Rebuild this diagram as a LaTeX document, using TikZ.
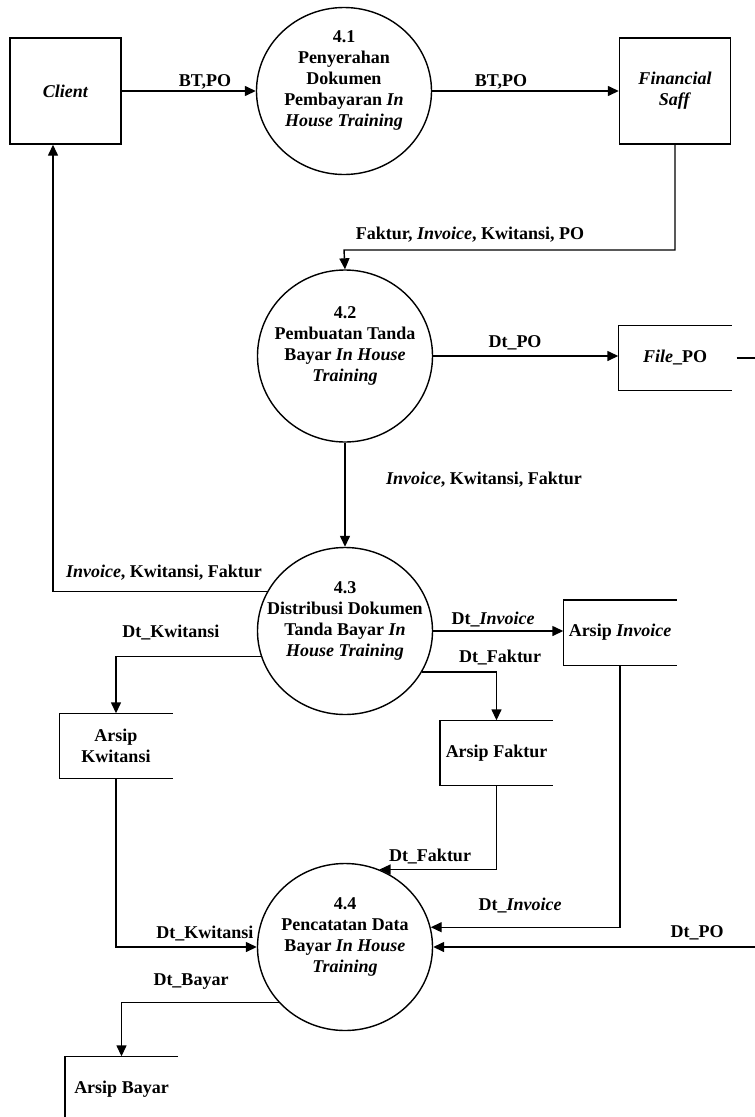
\documentclass[tikz,border=0pt]{standalone}
\usepackage{fontspec}
\setmainfont{Liberation Serif}
\usetikzlibrary{shapes.geometric, arrows.meta, positioning, calc}

\begin{document}
\begin{tikzpicture}[x=1pt, y=-1pt, line width=1.4pt,
    every node/.style={font=\fontsize{18}{21}\selectfont\bfseries},
    proc/.style={draw, ellipse, minimum width=175pt, minimum height=167pt, inner sep=0pt},
    ptext/.style={align=center, inner sep=0pt},
    entity/.style={draw, minimum width=111pt, minimum height=106pt, inner sep=0pt, align=center},
    store/.style={minimum width=112pt, minimum height=64pt, inner sep=0pt, align=center},
    flow/.style={-{Triangle[length=11pt,width=10pt]}},
    lbl/.style={inner sep=0pt}]
  \useasboundingbox (0,0) rectangle (755,1117);

  % external entities
  \node[entity] (client) at (65.5,91) {\textit{Client}};
  \node[entity] (fin) at (675,91) {\textit{Financial}\\\textit{Saff}};

  % processes
  \node[proc] (p41) at (344,91) {};
  \node[proc, minimum height=172pt] (p42) at (345,356) {};
  \node[proc] (p43) at (345,631) {};
  \node[proc] (p44) at (345,947) {};
  \node[ptext] (t41) at ([yshift=10.5pt]p41.center) {4.1\\Penyerahan\\Dokumen\\Pembayaran \textit{In}\\\textit{House Training}};
  \node[ptext] (t42) at ([yshift=10.5pt]p42.center) {4.2\\Pembuatan Tanda\\Bayar \textit{In House}\\\textit{Training}};
  \node[ptext] (t43) at ([yshift=10.5pt]p43.center) {4.3\\Distribusi Dokumen\\Tanda Bayar \textit{In}\\\textit{House Training}};
  \node[ptext] (t44) at ([yshift=10.5pt]p44.center) {4.4\\Pencatatan Data\\Bayar \textit{In House}\\\textit{Training}};

  % data stores
  \node[store] (fpo) at (675,358) {\textit{File}\_PO};
  \node[store] (ainv) at (620,632.5) {Arsip \textit{Invoice}};
  \node[store] (afak) at (496.5,753) {Arsip Faktur};
  \node[store] (akwi) at (116,746) {Arsip\\Kwitansi};
  \node[store] (abay) at (121.5,1089) {Arsip Bayar};
  \foreach \s in {fpo,ainv,afak,akwi,abay}
    \draw (\s.north east) -- (\s.north west) -- (\s.south west) -- (\s.south east);

  % flows
  \coordinate (bendA) at (344,250);
  \draw[flow] (client.east) -- (p41.west);
  \draw[flow] (p41.east) -- (fin.west);
  \draw[flow] (fin.south) |- (bendA) -- (p42.north);
  \draw[flow] (p42.east) -- (p42.east -| fpo.west);
  \draw[flow] (p42.south) -- (p43.north);
  \draw[flow] (p43.153) -| ([xshift=-12.5pt]client.south);
  \draw[flow] (p43.197) -| (akwi.north);
  \draw[flow] (p43.east) -- (p43.east -| ainv.west);
  \draw[flow] (p43.332) -| (afak.north);
  \draw[flow] (akwi.south) |- (p44.west);
  \draw[flow] (afak.south) |- (p44.66);
  \draw[flow] (ainv.south) |- (p44.13);
  \draw[flow] ([xshift=5pt]fpo.east) -- ++(30,0) |- (p44.east);
  \draw[flow] (p44.220) -| (abay.north);

  % flow labels
  \node[lbl] (l1) at (205,82) {BT,PO};
  \node[lbl] (l2) at (501,82) {BT,PO};
  \node[lbl] (l3) at (470,235) {Faktur, \textit{Invoice}, Kwitansi, PO};
  \node[lbl] (l4) at (515,343) {Dt\_PO};
  \node[lbl] (l5) at (484,480) {\textit{Invoice}, Kwitansi, Faktur};
  \node[lbl] (l6) at (164,573) {\textit{Invoice}, Kwitansi, Faktur};
  \node[lbl] (l7) at (171,632) {Dt\_Kwitansi};
  \node[lbl] (l8) at (493,619) {Dt\_\textit{Invoice}};
  \node[lbl] (l9) at (500,657) {Dt\_Faktur};
  \node[lbl] (l10) at (430,856) {Dt\_Faktur};
  \node[lbl] (l11) at (520,905) {Dt\_\textit{Invoice}};
  \node[lbl] (l12) at (697,933) {Dt\_PO};
  \node[lbl] (l13) at (205,933) {Dt\_Kwitansi};
  \node[lbl] (l14) at (191,982) {Dt\_Bayar};
\end{tikzpicture}
\end{document}
